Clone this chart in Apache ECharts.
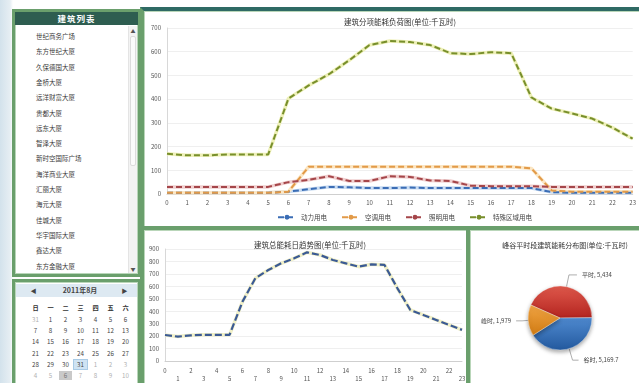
<!DOCTYPE html>
<html>
<head>
<meta charset="utf-8">
<title>建筑能耗监测</title>
<script src="https://cdn.jsdelivr.net/npm/echarts@6/dist/echarts.min.js"></script>
<style>
  html, body { margin: 0; padding: 0; width: 639px; height: 383px; overflow: hidden; }
  body {
    position: relative;
    background: linear-gradient(90deg, #d3e2ec 0, #e6eef3 10px, #ffffff 13px);
    font-family: "Noto Sans CJK SC", "Noto Sans", sans-serif;
  }
  .frame { position: absolute; box-sizing: border-box; border: 4px solid #6a9f6c; background: #fff;
           box-shadow: inset 0 0 0 1px #b9d6b9; }
  .teal { border-top-color: #2f6a64; }
  .hdr { position: absolute; left: 0; right: 0; top: 0; height: 13px; background: #2e5d50; color: #fff;
         font-size: 8.5px; font-weight: bold; text-align: center; line-height: 13px; letter-spacing: 1px; }
  .item { position: absolute; left: 21px; font-size: 6.5px; color: #3a3a3a; white-space: nowrap; line-height: 8px; }
  .sb { position: absolute; right: 1px; top: 14px; bottom: 1px; width: 8px; background: #f3f3f3; border-left: 1px solid #e4e4e4; }
  .thumb { position: absolute; left: 1px; right: 1px; top: 10px; height: 128px; background: #fbfbfb; border: 1px solid #dcdcdc; border-radius: 2px; }
  .arr { position: absolute; left: 0; right: 0; text-align: center; font-size: 5px; color: #555; }
  .cal { position: absolute; font-size: 6.2px; color: #444; width: 13px; text-align: center; line-height: 9px; }
  .calbar { position: absolute; left: 1px; right: 1px; top: 2px; height: 13px; background: #dde9f2; }
  #chart { position: absolute; left: 0; top: 0; width: 639px; height: 383px; z-index: 5; }
</style>
</head>
<body>
  <!-- panel frames -->
  <div class="frame" style="left:12px;top:9px;width:129px;height:268px;border-width:3px;">
    <div class="hdr">建筑列表</div>
    <div class="sb"><div class="arr" style="top:1px;">▲</div><div class="thumb"></div><div class="arr" style="bottom:1px;">▼</div></div>
    <div id="list"></div>
  </div>
  <div class="frame" style="left:12px;top:279px;width:129px;height:120px;border-width:3px;">
    <div class="calbar"></div>
    <div id="cal"></div>
  </div>
  <div class="frame teal" style="left:140px;top:7px;width:510px;height:224px;"></div>
  <div class="frame" style="left:140px;top:226px;width:331px;height:170px;"></div>
  <div class="frame" style="left:466px;top:226px;width:184px;height:170px;"></div>
  <div id="chart"></div>

<script>
// building list
const buildings = ['世纪商务广场', '东方世纪大厦', '久保德国大厦', '金桥大厦', '远洋财富大厦', '贵都大厦',
  '远东大厦', '智泽大厦', '新时空国际广场', '海洋商业大厦', '汇丽大厦', '海元大厦', '佳城大厦',
  '华宇国际大厦', '鑫达大厦', '东方金融大厦'];

// calendar (2011年8月)
const calTitle = '2011年8月';
const weekDays = ['日', '一', '二', '三', '四', '五', '六'];
const calRows = [
  [31, 1, 2, 3, 4, 5, 6],
  [7, 8, 9, 10, 11, 12, 13],
  [14, 15, 16, 17, 18, 19, 20],
  [21, 22, 23, 24, 25, 26, 27],
  [28, 29, 30, 31, 1, 2, 3],
  [4, 5, 6, 7, 8, 9, 10]
];

// hourly loads by category (千瓦时)
const hours = ['0','1','2','3','4','5','6','7','8','9','10','11','12','13','14','15','16','17','18','19','20','21','22','23'];
const seriesNames = ['动力用电', '空调用电', '照明用电', '特殊区域用电'];
const powerLoad   = [5, 5, 5, 5, 5, 5, 10, 20, 30, 28, 25, 25, 27, 25, 25, 25, 25, 25, 25, 8, 5, 5, 5, 5];
const acLoad      = [5, 5, 5, 5, 5, 5, 10, 115, 115, 115, 115, 115, 115, 115, 115, 115, 115, 115, 108, 15, 10, 10, 10, 10];
const lightLoad   = [30, 30, 30, 30, 30, 30, 50, 60, 75, 55, 55, 75, 72, 57, 55, 35, 33, 33, 33, 30, 30, 30, 30, 30];
const specialLoad = [170, 163, 163, 167, 167, 167, 403, 458, 505, 564, 628, 645, 641, 628, 594, 590, 598, 594, 407, 360, 340, 318, 280, 233];

// daily total trend
const dailyTotal = [209, 196, 206, 210, 210, 210, 477, 665, 731, 785, 825, 873, 852, 812, 785, 758, 777, 772, 584, 410, 370, 330, 290, 250];

// peak / valley / flat split
const periodNames  = ['平时', '谷时', '峰时'];
const periodValues = [5434, 5169.7, 1979];

// ---- static list & calendar ----
const list = document.getElementById('list');
buildings.forEach((b, i) => {
  const d = document.createElement('div');
  d.className = 'item';
  d.style.top = (20 + i * 15.3) + 'px';
  d.textContent = b;
  list.appendChild(d);
});

const cal = document.getElementById('cal');
const colX = [14, 29, 44, 59, 74, 89, 104];
function calCell(txt, x, y, extra) {
  const d = document.createElement('div');
  d.className = 'cal';
  d.style.left = x + 'px';
  d.style.top = y + 'px';
  d.textContent = txt;
  Object.assign(d.style, extra || {});
  cal.appendChild(d);
}
calCell('◀', 12, 4, { fontSize: '6px' });
calCell('▶', 103, 4, { fontSize: '6px' });
calCell(calTitle, 40, 4, { width: '50px', fontWeight: 'bold', fontSize: '7px' });
weekDays.forEach((w, i) => calCell(w, colX[i], 21, { fontWeight: 'bold', color: '#333' }));
calRows.forEach((row, r) => {
  row.forEach((day, c) => {
    const other = (r === 0 && day > 7) || (r >= 4 && day < 15);
    const st = { color: other ? '#b0b0b0' : '#444' };
    if (r === 4 && day === 31) { st.background = '#cfe3f3'; st.outline = '1px solid #a9cbe6'; }
    if (r === 5 && day === 6) { st.background = '#c9c9c9'; st.color = '#777'; }
    calCell(String(day), colX[c], 33 + r * 11.2, st);
  });
});

// ---- charts ----
const chart = echarts.init(document.getElementById('chart'), null, { renderer: 'canvas' });
const font = '"Noto Sans CJK SC", "Noto Sans", sans-serif';
const axisLabel = { fontSize: 6, color: '#555', fontFamily: font };

const lineColors = ['#3b6db5', '#e29a48', '#a5464a', '#788f2c'];
const glowColors = ['#c9dcf2', '#fbe6c4', '#f0cfcf', '#eef0b8'];
const loads = [powerLoad, acLoad, lightLoad, specialLoad];

const series = [];
loads.forEach((data, i) => {
  series.push({
    type: 'line', xAxisIndex: 0, yAxisIndex: 0, data, symbol: 'none', silent: true,
    lineStyle: { color: glowColors[i], width: 3.5 }, z: 2
  });
});
loads.forEach((data, i) => {
  series.push({
    name: seriesNames[i], type: 'line', xAxisIndex: 0, yAxisIndex: 0, data, symbol: 'none',
    color: lineColors[i],
    lineStyle: { color: lineColors[i], width: 2, type: [6, 3] }, z: 3
  });
});
series.push({
  type: 'line', xAxisIndex: 1, yAxisIndex: 1, data: dailyTotal, symbol: 'none', silent: true,
  lineStyle: { color: '#f1f0c8', width: 3.5 }, z: 2
});
series.push({
  name: '总能耗', type: 'line', xAxisIndex: 1, yAxisIndex: 1, data: dailyTotal, symbol: 'none',
  lineStyle: { color: '#3b5a94', width: 2.2, type: [7, 3] }, z: 3
});

const sliceColors = [
  ['#e0594c', '#b3241f'],
  ['#4f8ad0', '#23599e'],
  ['#f2a544', '#cf7a12']
];
const lineLens = [[12, 8], [12, 6], [6, 6]];
series.push({
  type: 'pie', center: [560, 318], radius: 32, startAngle: 156, clockwise: true,
  data: periodValues.map((v, i) => ({
    name: periodNames[i], value: v,
    itemStyle: {
      color: new echarts.graphic.LinearGradient(0, 0, 0, 1, [
        { offset: 0, color: sliceColors[i][0] }, { offset: 1, color: sliceColors[i][1] }
      ]),
      borderColor: 'rgba(255,255,255,0.6)', borderWidth: 0.6
    },
    labelLine: { length: lineLens[i][0], length2: lineLens[i][1] }
  })),
  label: {
    formatter: p => p.name + ', ' + p.value.toLocaleString('en-US'),
    fontSize: 6, color: '#444', fontFamily: font
  },
  labelLine: { lineStyle: { color: '#999', width: 0.8 } },
  itemStyle: { shadowBlur: 4, shadowColor: 'rgba(0,0,0,0.35)', shadowOffsetY: 2 }
});

chart.setOption({
  animation: false,
  backgroundColor: 'transparent',
  textStyle: { fontFamily: font },
  title: [
    { text: '建筑分项能耗负荷图(单位:千瓦时)', left: 395, top: 13, textAlign: 'center',
      textStyle: { fontSize: 7.5, fontWeight: 'normal', color: '#333' } },
    { text: '建筑总能耗日趋势图(单位:千瓦时)', left: 305, top: 236, textAlign: 'center',
      textStyle: { fontSize: 7.5, fontWeight: 'normal', color: '#333' } },
    { text: '峰谷平时段建筑能耗分布图(单位:千瓦时)', left: 560, top: 237, textAlign: 'center',
      textStyle: { fontSize: 7, fontWeight: 'normal', color: '#333' } }
  ],
  legend: {
    data: seriesNames, left: 272, top: 209, orient: 'horizontal',
    itemWidth: 18, itemHeight: 6, itemGap: 14,
    textStyle: { fontSize: 6.5, color: '#444', fontFamily: font }
  },
  grid: [
    { left: 167, top: 28, width: 468, height: 166 },
    { left: 165, top: 249, width: 297, height: 112 }
  ],
  xAxis: [
    { gridIndex: 0, type: 'category', data: hours, boundaryGap: false,
      axisLine: { lineStyle: { color: '#cfcfcf' } }, axisTick: { show: false },
      axisLabel: Object.assign({ margin: 6, interval: 0 }, axisLabel) },
    { gridIndex: 1, type: 'category', data: hours, boundaryGap: false,
      axisLine: { lineStyle: { color: '#cfcfcf' } }, axisTick: { show: false },
      axisLabel: Object.assign({ margin: 6, interval: 0, lineHeight: 8,
        formatter: (v, i) => (i % 2 ? '\n' + v : v) }, axisLabel) }
  ],
  yAxis: [
    { gridIndex: 0, type: 'value', min: 0, max: 700, interval: 100,
      axisLine: { show: true, lineStyle: { color: '#d8d8d8' } },
      splitLine: { lineStyle: { color: '#efefef' } }, axisLabel: Object.assign({ margin: 6 }, axisLabel) },
    { gridIndex: 1, type: 'value', min: 0, max: 900, interval: 100,
      axisLine: { show: true, lineStyle: { color: '#d8d8d8' } },
      splitLine: { lineStyle: { color: '#efefef' } }, axisLabel: Object.assign({ margin: 6 }, axisLabel) }
  ],
  series
});
</script>
</body>
</html>
